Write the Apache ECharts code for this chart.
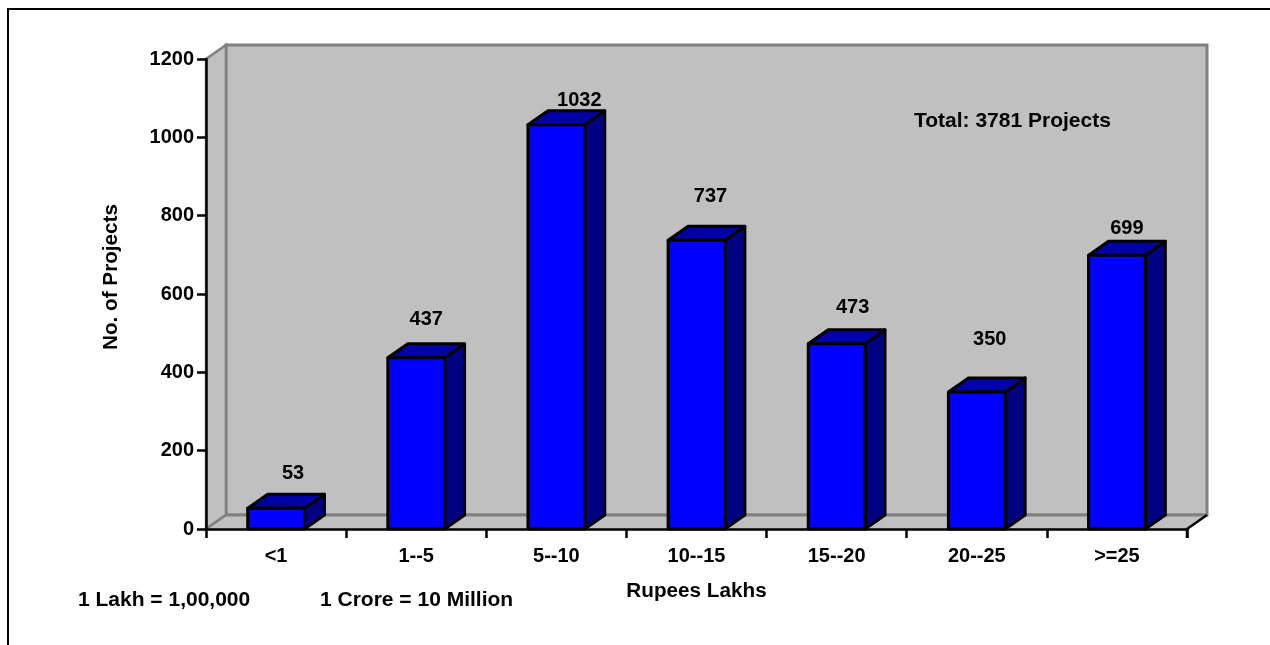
<!DOCTYPE html>
<html>
<head>
<meta charset="utf-8">
<style>html,body{margin:0;padding:0;background:#fff}#c{width:1270px;height:645px}</style>
<script src="https://cdn.jsdelivr.net/npm/echarts@6/dist/echarts.min.js"></script>
</head>
<body>
<div id="c"></div>
<script>
const categories = ['<1', '1--5', '5--10', '10--15', '15--20', '20--25', '>=25'];
const projects = [53, 437, 1032, 737, 473, 350, 699];
const yTicks = { min: 0, max: 1200, interval: 200 };
// hand-placed value labels of the source: offset from the front-top centre of each bar
const labelDx = [17, 10, 23, 14, 16, 13, 10];
const labelDy = [-35, -38, -24, -44, -36, -52, -27];

const FONT = '"Liberation Sans", Arial, sans-serif';
const FS = 20, FS_NOTE = 21;
const DX = 20, DY = 14;   // 3D depth
const barRatio = 0.405;

const chart = echarts.init(document.getElementById('c'), null, { renderer: 'canvas' });

function renderWalls(params, api) {
  const band = api.size([1, 0])[0];
  const o = api.coord([0, 0]);
  const t = api.coord([0, yTicks.max]);
  const l = o[0] - band / 2, b = o[1], top = t[1], r = l + band * categories.length;
  const fill = '#c0c0c0', edge = '#808080';
  return {
    type: 'group',
    children: [
      { type: 'polygon', shape: { points: [[l + DX, top - DY], [r + DX, top - DY], [r + DX, b - DY], [l + DX, b - DY]] },
        style: { fill, stroke: edge, lineWidth: 3 } },
      { type: 'polygon', shape: { points: [[l, top], [l + DX, top - DY], [l + DX, b - DY], [l, b]] },
        style: { fill, stroke: edge, lineWidth: 2.5 } },
      { type: 'polygon', shape: { points: [[l, b], [l + DX, b - DY], [r + DX, b - DY], [r, b]] },
        style: { fill, stroke: null } },
      { type: 'line', shape: { x1: l, y1: b, x2: l + DX, y2: b - DY }, style: { stroke: edge, lineWidth: 2.5 } },
      { type: 'line', shape: { x1: l + DX, y1: b - DY, x2: r + DX, y2: b - DY }, style: { stroke: edge, lineWidth: 3 } },
      { type: 'line', shape: { x1: r, y1: b, x2: r + DX, y2: b - DY }, style: { stroke: '#000', lineWidth: 2.5 } },
      { type: 'line', shape: { x1: r, y1: b, x2: r, y2: b + 9 }, style: { stroke: '#000', lineWidth: 2.5 } }
    ]
  };
}

function renderBar(params, api) {
  const i = api.value(0), v = api.value(1);
  const band = api.size([1, 0])[0];
  const w = band * barRatio;
  const p = api.coord([i, v]), o = api.coord([i, 0]);
  const x0 = p[0] - w / 2, x1 = x0 + w, yt = p[1], yb = o[1];
  const s = { stroke: '#000', lineWidth: 3, lineJoin: 'round' };
  return {
    type: 'group',
    children: [
      { type: 'polygon', shape: { points: [[x1, yt], [x1 + DX, yt - DY], [x1 + DX, yb - DY], [x1, yb]] },
        style: Object.assign({ fill: '#000080' }, s) },
      { type: 'polygon', shape: { points: [[x0, yt], [x0 + DX, yt - DY], [x1 + DX, yt - DY], [x1, yt]] },
        style: Object.assign({ fill: '#0000a6' }, s) },
      { type: 'rect', shape: { x: x0, y: yt, width: w, height: yb - yt },
        style: Object.assign({ fill: '#0000ff' }, s) },
      { type: 'text', style: { x: p[0] + labelDx[i], y: yt + labelDy[i], text: String(v), fill: '#000',
          font: 'bold ' + FS + 'px ' + FONT, align: 'center', verticalAlign: 'middle' } }
    ]
  };
}

const noteStyle = { fill: '#000', font: 'bold ' + FS_NOTE + 'px ' + FONT };

chart.setOption({
  animation: false,
  backgroundColor: '#fff',
  grid: { left: 206, right: 83, top: 59, bottom: 116, containLabel: false },
  xAxis: {
    type: 'category', data: categories, boundaryGap: true,
    name: 'Rupees Lakhs', nameLocation: 'middle', nameGap: 52,
    nameTextStyle: { color: '#000', fontWeight: 'bold', fontSize: 20.7, fontFamily: FONT },
    axisLine: { show: true, lineStyle: { color: '#000', width: 2.5 } },
    axisTick: { show: true, alignWithLabel: false, length: 9, lineStyle: { color: '#000', width: 2.5 } },
    axisLabel: { color: '#000', fontWeight: 'bold', fontSize: FS, fontFamily: FONT, margin: 17, interval: 0 },
    splitLine: { show: false }, z: 5
  },
  yAxis: {
    type: 'value', min: yTicks.min, max: yTicks.max, interval: yTicks.interval,
    name: 'No. of Projects', nameLocation: 'middle', nameGap: 84, nameRotate: 90,
    nameTextStyle: { color: '#000', fontWeight: 'bold', fontSize: 20.7, fontFamily: FONT, padding: [0, 0, 0, 34] },
    axisLine: { show: true, onZero: false, lineStyle: { color: '#000', width: 2.5 } },
    axisTick: { show: true, length: 9, lineStyle: { color: '#000', width: 2.5 } },
    axisLabel: { color: '#000', fontWeight: 'bold', fontSize: FS, fontFamily: FONT, margin: 12,
      formatter: (v) => String(v) },
    splitLine: { show: false }, z: 5
  },
  series: [
    { type: 'custom', coordinateSystem: 'cartesian2d', clip: false, silent: true, z: 1,
      encode: { x: 0, y: 1 }, data: [[0, 0]], renderItem: renderWalls },
    { type: 'custom', coordinateSystem: 'cartesian2d', clip: false, silent: true, z: 6,
      encode: { x: 0, y: 1 }, data: projects.map((v, i) => [i, v]), renderItem: renderBar }
  ],
  graphic: [
    { type: 'polyline', silent: true, z: 10,
      shape: { points: [[8, 645], [8, 9], [1270, 9]] }, style: { fill: null, stroke: '#000', lineWidth: 2 } },
    { type: 'text', left: 914, top: 111, z: 10, style: Object.assign({ text: 'Total: 3781 Projects' }, noteStyle) },
    { type: 'text', left: 78, top: 590, z: 10, style: Object.assign({ text: '1 Lakh = 1,00,000' }, noteStyle) },
    { type: 'text', left: 320, top: 590, z: 10, style: Object.assign({ text: '1 Crore = 10 Million' }, noteStyle) }
  ]
});
</script>
</body>
</html>
